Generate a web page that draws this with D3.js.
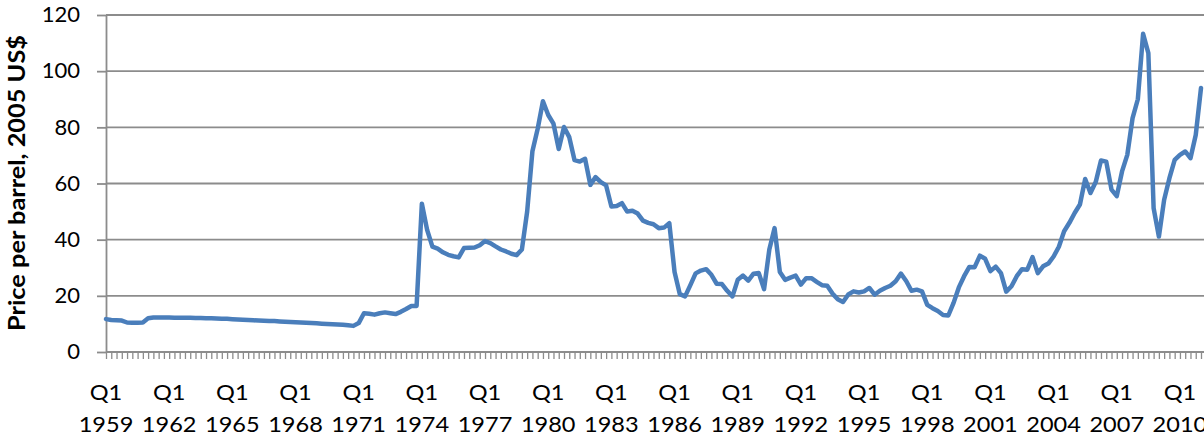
<!DOCTYPE html>
<html><head><meta charset="utf-8">
<script src="https://cdn.jsdelivr.net/npm/d3@7"></script>
<style>
html,body{margin:0;padding:0;background:#fff;}
svg{display:block;}
text{font-family:Lato,"Open Sans",sans-serif;fill:#000;}
</style></head><body>
<svg id="chart" width="1204" height="438"></svg>
<script>
const startYear = 1959;
// Quarterly real oil price, 2005 US$ per barrel, Q1 1959 .. Q1 2011
const prices = [
  11.7, 11.4, 11.3, 11.2,   // 1959
  10.5, 10.4, 10.4, 10.5,   // 1960
  12.0, 12.3, 12.3, 12.3,   // 1961
  12.3, 12.2, 12.2, 12.2,   // 1962
  12.2, 12.1, 12.1, 12.0,   // 1963
  12.0, 11.9, 11.8, 11.8,   // 1964
  11.7, 11.6, 11.5, 11.4,   // 1965
  11.3, 11.2, 11.1, 11.0,   // 1966
  11.0, 10.9, 10.8, 10.7,   // 1967
  10.6, 10.5, 10.4, 10.3,   // 1968
  10.2, 10.1, 10.0, 9.9,    // 1969
  9.8, 9.7, 9.5, 9.3,       // 1970
  10.3, 13.8, 13.6, 13.3,   // 1971
  13.8, 14.1, 13.8, 13.5,   // 1972
  14.3, 15.3, 16.4, 16.4,   // 1973
  52.8, 43.5, 37.5, 36.8,   // 1974
  35.5, 34.6, 34.1, 33.7,   // 1975
  37.0, 37.1, 37.2, 38.0,   // 1976
  39.5, 38.8, 37.6, 36.5,   // 1977
  35.8, 35.0, 34.5, 36.5,   // 1978
  50.0, 71.5, 79.5, 89.3,   // 1979
  84.4, 81.3, 72.3, 80.1,   // 1980
  76.5, 68.3, 67.8, 68.8,   // 1981
  59.5, 62.3, 60.5, 59.3,   // 1982
  51.8, 52.0, 53.0, 50.0,   // 1983
  50.3, 49.3, 46.8, 46.0,   // 1984
  45.5, 44.1, 44.3, 45.9,   // 1985
  28.5, 20.6, 19.8, 23.8,   // 1986
  28.0, 29.0, 29.5, 27.5,   // 1987
  24.3, 24.2, 21.8, 19.8,   // 1988
  25.7, 27.2, 25.4, 27.9,   // 1989
  28.1, 22.4, 36.5, 44.1,   // 1990
  28.5, 25.7, 26.5, 27.2,   // 1991
  24.0, 26.3, 26.3, 25.0,   // 1992
  23.8, 23.6, 20.8, 18.8,   // 1993
  17.8, 20.5, 21.6, 21.2,   // 1994
  21.6, 22.8, 20.4, 21.8,   // 1995
  22.8, 23.6, 25.2, 27.9,   // 1996
  25.3, 21.8, 22.2, 21.6,   // 1997
  16.8, 15.6, 14.6, 13.2,   // 1998
  13.0, 17.5, 23.0, 27.0,   // 1999
  30.3, 30.2, 34.3, 33.2,   // 2000
  28.8, 30.4, 28.1, 21.5,   // 2001
  23.4, 27.0, 29.5, 29.3,   // 2002
  33.8, 28.1, 30.5, 31.5,   // 2003
  34.0, 37.5, 43.0, 46.0,   // 2004
  49.5, 52.5, 61.6, 56.6,   // 2005
  60.5, 68.2, 67.8, 57.8,   // 2006
  55.5, 64.3, 70.2, 83.3,   // 2007
  90.0, 113.3, 106.4, 51.2, // 2008
  41.1, 54.2, 61.9, 68.4,   // 2009
  70.2, 71.4, 69.0, 77.3,   // 2010
  94.0                      // 2011
];
const yTickValues = [0, 20, 40, 60, 80, 100, 120];
const xLabelYears = [1959, 1962, 1965, 1968, 1971, 1974, 1977, 1980, 1983, 1986, 1989, 1992, 1995, 1998, 2001, 2004, 2007, 2010];
const xLabelQuarter = "Q1";
const yTitle = "Price per barrel, 2005 US$";

const quarters = prices.map((_, i) => `${startYear + Math.floor(i / 4)} Q${(i % 4) + 1}`);

const svg = d3.select("#chart");
const plotLeft = 106, plotRight = 1201, plotTop = 15, plotBottom = 352, gridRight = 1204;
const gray = "#8c8c8c";

const x = d3.scalePoint().domain(quarters).range([plotLeft, plotRight]);
const y = d3.scaleLinear().domain([0, 120]).range([plotBottom, plotTop]);

function stretch(sel, f) {
  sel.each(function () {
    const L = this.getComputedTextLength();
    this.setAttribute("textLength", L * f);
    this.setAttribute("lengthAdjust", "spacingAndGlyphs");
  });
}

// gridlines
svg.append("g").selectAll("line").data(yTickValues).join("line")
  .attr("x1", plotLeft).attr("x2", gridRight)
  .attr("y1", d => y(d)).attr("y2", d => y(d))
  .attr("stroke", gray).attr("stroke-width", 1.8);

// y axis
const yAxis = svg.append("g").attr("transform", `translate(${plotLeft},0)`)
  .call(d3.axisLeft(y).tickValues(yTickValues).tickSize(9).tickSizeOuter(0).tickPadding(17));
yAxis.select(".domain").attr("stroke", gray).attr("stroke-width", 1.8);
yAxis.selectAll(".tick line").attr("stroke", gray).attr("stroke-width", 1.8);
yAxis.selectAll("text").attr("font-family", "Lato").attr("font-size", 21).attr("fill", "#000")
  .call(stretch, 1.05);

// x axis (one tick per quarter)
const xAxis = svg.append("g").attr("transform", `translate(0,${plotBottom})`)
  .call(d3.axisBottom(x).tickValues(quarters).tickSize(7).tickSizeOuter(0).tickFormat(""));
xAxis.select(".domain").attr("stroke", gray).attr("stroke-width", 1.8).attr("d", `M${plotLeft},0H${gridRight}`);
xAxis.selectAll(".tick line").attr("stroke", gray).attr("stroke-width", 1.3);

// x labels
const lab = svg.append("g").attr("font-size", 22).attr("text-anchor", "middle");
lab.selectAll("text.q").data(xLabelYears).join("text").attr("class", "q")
  .attr("x", d => x(`${d} Q1`)).attr("y", 400).text(xLabelQuarter).call(stretch, 1.07);
lab.selectAll("text.yr").data(xLabelYears).join("text").attr("class", "yr")
  .attr("x", d => x(`${d} Q1`)).attr("y", 432).text(d => d).call(stretch, 1.07);

// y title
const yt = svg.append("text").attr("transform", "translate(25,183) rotate(-90)")
  .attr("text-anchor", "middle").attr("font-weight", "bold").attr("font-size", 22)
  .text(yTitle);
yt.attr("textLength", 296).attr("lengthAdjust", "spacingAndGlyphs");

// line
svg.append("path").datum(prices)
  .attr("fill", "none").attr("stroke", "#4a7ebb").attr("stroke-width", 4.5)
  .attr("stroke-linejoin", "round").attr("stroke-linecap", "round")
  .attr("d", d3.line().x((d, i) => x(quarters[i])).y(d => y(d)));
</script>
</body></html>
